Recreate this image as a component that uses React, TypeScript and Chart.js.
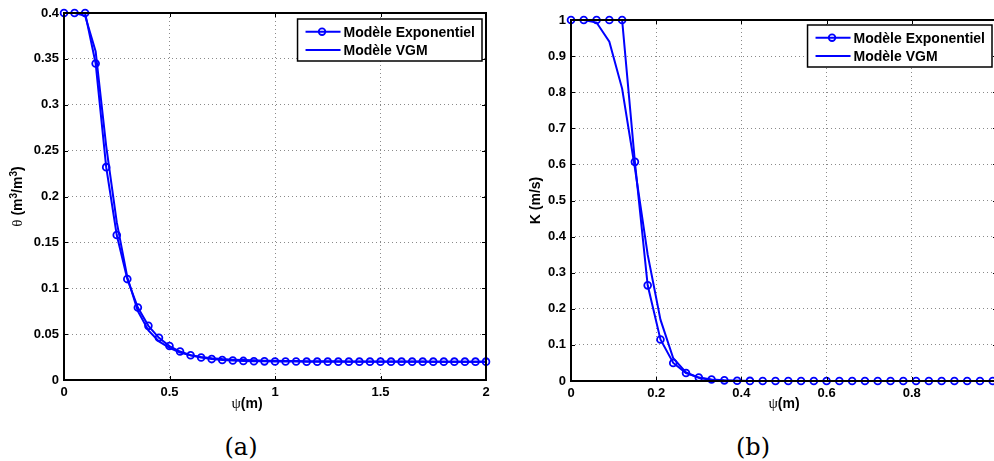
import React, { useEffect, useRef } from "react";
import { Chart, registerables } from "chart.js";

Chart.register(...registerables);

// ---------------- Data (a): θ vs ψ ----------------
const psiA = [
  0, 0.05, 0.1, 0.15, 0.2, 0.25, 0.3, 0.35, 0.4, 0.45, 0.5, 0.55, 0.6, 0.65, 0.7,
  0.75, 0.8, 0.85, 0.9, 0.95, 1, 1.05, 1.1, 1.15, 1.2, 1.25, 1.3, 1.35, 1.4, 1.45,
  1.5, 1.55, 1.6, 1.65, 1.7, 1.75, 1.8, 1.85, 1.9, 1.95, 2,
];
const thetaExponentiel = [
  0.4, 0.4, 0.4, 0.345, 0.232, 0.158, 0.11, 0.079, 0.059, 0.046, 0.037, 0.031,
  0.027, 0.0245, 0.0228, 0.0218, 0.0212, 0.0208, 0.0205, 0.0203, 0.0202, 0.0201,
  0.0201, 0.02, 0.02, 0.02, 0.02, 0.02, 0.02, 0.02, 0.02, 0.02, 0.02, 0.02, 0.02,
  0.02, 0.02, 0.02, 0.02, 0.02, 0.02,
];
const thetaVGM = [
  0.4, 0.4, 0.397, 0.358, 0.255, 0.172, 0.112, 0.075, 0.054, 0.042, 0.035, 0.03,
  0.027, 0.025, 0.0237, 0.0228, 0.0222, 0.0217, 0.0214, 0.0211, 0.0209, 0.0207,
  0.0206, 0.0205, 0.0204, 0.0203, 0.0203, 0.0202, 0.0202, 0.0202, 0.0201, 0.0201,
  0.0201, 0.0201, 0.0201, 0.02, 0.02, 0.02, 0.02, 0.02, 0.02,
];

// ---------------- Data (b): K vs ψ ----------------
const psiB = [
  0, 0.03, 0.06, 0.09, 0.12, 0.15, 0.18, 0.21, 0.24, 0.27, 0.3, 0.33, 0.36, 0.39,
  0.42, 0.45, 0.48, 0.51, 0.54, 0.57, 0.6, 0.63, 0.66, 0.69, 0.72, 0.75, 0.78,
  0.81, 0.84, 0.87, 0.9, 0.93, 0.96, 0.99,
];
const kExponentiel = [
  1, 1, 1, 1, 1, 0.607, 0.265, 0.115, 0.05, 0.022, 0.0095, 0.004, 0.0018, 0.0008,
  0.0003, 0.0001, 0, 0, 0, 0, 0, 0, 0, 0, 0, 0, 0, 0, 0, 0, 0, 0, 0, 0,
];
const kVGM = [
  1, 1, 0.993, 0.94, 0.81, 0.59, 0.35, 0.17, 0.063, 0.024, 0.009, 0.003, 0.001,
  0.0004, 0.0001, 0, 0, 0, 0, 0, 0, 0, 0, 0, 0, 0, 0, 0, 0, 0, 0, 0, 0, 0,
];

const seriesLabels = ["Modèle Exponentiel", "Modèle VGM"];
const captionLabels = ["(a)", "(b)"];

const BLUE = "#0000ff";
const SANS = "'Liberation Sans', Arial, Helvetica, sans-serif";
const GREEK = "'Liberation Serif', 'DejaVu Serif', serif";

type Part = { t: string; kind: "greek" | "bold" | "sup" };

// axis title pieces (text + typographic role)
const xTitleParts: Part[] = [
  { t: "ψ", kind: "greek" },
  { t: "(m)", kind: "bold" },
];
const yTitlePartsA: Part[] = [
  { t: "θ", kind: "greek" },
  { t: " (m", kind: "bold" },
  { t: "3", kind: "sup" },
  { t: "/m", kind: "bold" },
  { t: "3", kind: "sup" },
  { t: ")", kind: "bold" },
];
const yTitlePartsB: Part[] = [{ t: "K (m/s)", kind: "bold" }];

const fmt = (v: any) => `${+Number(v).toFixed(4)}`;

type Spec = {
  left: number;
  width: number;
  height: number;
  padTop: number;
  padRight: number;
  yAxisWidth: number;
  xAxisHeight: number;
  x: number[];
  yExp: number[];
  yVgm: number[];
  xMax: number;
  xStep: number;
  yMax: number;
  yStep: number;
  xTitleCx: number;
  xTitleCy: number;
  yTitle: Part[];
  yTitleCx: number;
  legendRightInset: number;
  legendTopInset: number;
};

function partFont(k: Part["kind"]) {
  if (k === "greek") return `normal 15px ${GREEK}`;
  if (k === "sup") return `bold 10px ${SANS}`;
  return `bold 14px ${SANS}`;
}

function drawParts(ctx: CanvasRenderingContext2D, parts: Part[], cx: number, cy: number) {
  let total = 0;
  const widths = parts.map((p) => {
    ctx.font = partFont(p.kind);
    const w = ctx.measureText(p.t).width;
    total += w;
    return w;
  });
  let x = cx - total / 2;
  ctx.textAlign = "left";
  ctx.textBaseline = "alphabetic";
  ctx.fillStyle = "#000";
  parts.forEach((p, i) => {
    ctx.font = partFont(p.kind);
    const dy = p.kind === "sup" ? -5.5 : 0;
    ctx.fillText(p.t, x, cy + 5 + dy);
    x += widths[i];
  });
}

function makePlugin(spec: Spec) {
  return {
    id: "matlabDecor",
    afterDraw(chart: any) {
      const ctx: CanvasRenderingContext2D = chart.ctx;
      const ca = chart.chartArea;
      const xs = chart.scales.x;
      const ys = chart.scales.y;
      ctx.save();
      // inside tick marks
      ctx.strokeStyle = "#000";
      ctx.lineWidth = 1;
      const tl = 4;
      ctx.beginPath();
      xs.ticks.forEach((t: any) => {
        const px = Math.round(xs.getPixelForValue(t.value)) + 0.5;
        ctx.moveTo(px, ca.bottom);
        ctx.lineTo(px, ca.bottom - tl);
        ctx.moveTo(px, ca.top);
        ctx.lineTo(px, ca.top + tl);
      });
      ys.ticks.forEach((t: any) => {
        const py = Math.round(ys.getPixelForValue(t.value)) + 0.5;
        ctx.moveTo(ca.left, py);
        ctx.lineTo(ca.left + tl, py);
        ctx.moveTo(ca.right, py);
        ctx.lineTo(ca.right - tl, py);
      });
      ctx.stroke();
      // box
      ctx.lineWidth = 2;
      ctx.strokeRect(ca.left, ca.top, ca.right - ca.left, ca.bottom - ca.top);

      // legend
      ctx.font = `bold 14px ${SANS}`;
      const tw = Math.max(...seriesLabels.map((l) => ctx.measureText(l).width));
      const bw = 46 + tw + 7;
      const bh = 42;
      const bx = ca.right - spec.legendRightInset - bw;
      const by = ca.top + spec.legendTopInset;
      ctx.fillStyle = "#fff";
      ctx.fillRect(bx, by, bw, bh);
      ctx.strokeStyle = "#000";
      ctx.lineWidth = 1.5;
      ctx.strokeRect(bx, by, bw, bh);
      const rows = [by + 12.7, by + 31];
      rows.forEach((ry, i) => {
        ctx.strokeStyle = BLUE;
        ctx.lineWidth = 2;
        ctx.beginPath();
        ctx.moveTo(bx + 8, ry);
        ctx.lineTo(bx + 43, ry);
        ctx.stroke();
        if (i === 0) {
          ctx.lineWidth = 1.8;
          ctx.beginPath();
          ctx.arc(bx + 24.5, ry, 3.3, 0, Math.PI * 2);
          ctx.stroke();
        }
        ctx.fillStyle = "#000";
        ctx.font = `bold 14px ${SANS}`;
        ctx.textAlign = "left";
        ctx.textBaseline = "alphabetic";
        ctx.fillText(seriesLabels[i], bx + 46, ry + 5);
      });

      // axis titles
      drawParts(ctx, xTitleParts, spec.xTitleCx, spec.xTitleCy);
      ctx.save();
      ctx.translate(spec.yTitleCx, (ca.top + ca.bottom) / 2);
      ctx.rotate(-Math.PI / 2);
      drawParts(ctx, spec.yTitle, 0, 0);
      ctx.restore();
      ctx.restore();
    },
  };
}

function Panel({ spec }: { spec: Spec }) {
  const ref = useRef<HTMLCanvasElement | null>(null);
  useEffect(() => {
    if (!ref.current) return;
    const tickFont = { family: SANS, size: 13, weight: "bold" as const };
    const chart = new Chart(ref.current, {
      type: "line",
      data: {
        datasets: [
          {
            label: seriesLabels[0],
            data: spec.x.map((v, i) => ({ x: v, y: spec.yExp[i] })),
            borderColor: BLUE,
            borderWidth: 2,
            pointRadius: 3.4,
            pointBorderWidth: 1.8,
            pointBorderColor: BLUE,
            pointBackgroundColor: "rgba(0,0,0,0)",
            pointStyle: "circle",
            tension: 0,
            clip: false as any,
          },
          {
            label: seriesLabels[1],
            data: spec.x.map((v, i) => ({ x: v, y: spec.yVgm[i] })),
            borderColor: BLUE,
            borderWidth: 2,
            pointRadius: 0,
            tension: 0,
            clip: false as any,
          },
        ],
      },
      options: {
        animation: false,
        responsive: false,
        devicePixelRatio: 1,
        events: [],
        layout: { padding: { top: spec.padTop, right: spec.padRight, bottom: 0, left: 0 } },
        plugins: { legend: { display: false }, tooltip: { enabled: false } },
        scales: {
          x: {
            type: "linear",
            min: 0,
            max: spec.xMax,
            afterFit: (s: any) => {
              s.height = spec.xAxisHeight;
            },
            ticks: {
              stepSize: spec.xStep,
              autoSkip: false,
              maxRotation: 0,
              padding: 5,
              font: tickFont,
              color: "#000",
              callback: fmt,
            },
            grid: { color: "#8a8a8a", lineWidth: 1, drawTicks: false },
            border: { display: false, dash: [1, 3] },
          },
          y: {
            type: "linear",
            min: 0,
            max: spec.yMax,
            afterFit: (s: any) => {
              s.width = spec.yAxisWidth;
            },
            ticks: {
              stepSize: spec.yStep,
              autoSkip: false,
              padding: 5,
              font: tickFont,
              color: "#000",
              callback: fmt,
            },
            grid: { color: "#8a8a8a", lineWidth: 1, drawTicks: false },
            border: { display: false, dash: [1, 3] },
          },
        },
      },
      plugins: [makePlugin(spec)],
    } as any);
    return () => chart.destroy();
  }, [spec]);
  return (
    <canvas
      ref={ref}
      width={spec.width}
      height={spec.height}
      style={{ position: "absolute", left: spec.left, top: 0, width: spec.width, height: spec.height, display: "block" }}
    />
  );
}

const specA: Spec = {
  left: 0,
  width: 497,
  height: 420,
  padTop: 13,
  padRight: 11,
  yAxisWidth: 64,
  xAxisHeight: 40,
  x: psiA,
  yExp: thetaExponentiel,
  yVgm: thetaVGM,
  xMax: 2,
  xStep: 0.5,
  yMax: 0.4,
  yStep: 0.05,
  xTitleCx: 247,
  xTitleCy: 403,
  yTitle: yTitlePartsA,
  yTitleCx: 17,
  legendRightInset: 4,
  legendTopInset: 6,
};

const specB: Spec = {
  left: 500,
  width: 520,
  height: 420,
  padTop: 20,
  padRight: 23,
  yAxisWidth: 71,
  xAxisHeight: 39,
  x: psiB,
  yExp: kExponentiel,
  yVgm: kVGM,
  xMax: 1,
  xStep: 0.2,
  yMax: 1,
  yStep: 0.1,
  xTitleCx: 284,
  xTitleCy: 403,
  yTitle: yTitlePartsB,
  yTitleCx: 35,
  legendRightInset: 5,
  legendTopInset: 5,
};

export default function App() {
  const captionStyle = (cx: number): React.CSSProperties => ({
    position: "absolute",
    left: cx - 50,
    width: 100,
    top: 432,
    lineHeight: "30px",
    textAlign: "center",
    fontFamily: "'DejaVu Serif', 'Liberation Serif', serif",
    fontSize: 24,
    color: "#000",
  });
  return (
    <div
      style={{
        position: "fixed",
        left: 0,
        top: 0,
        width: 994,
        height: 461,
        overflow: "hidden",
        background: "#fff",
      }}
    >
      <Panel spec={specA} />
      <Panel spec={specB} />
      <div style={captionStyle(241)}>{captionLabels[0]}</div>
      <div style={captionStyle(753)}>{captionLabels[1]}</div>
    </div>
  );
}
